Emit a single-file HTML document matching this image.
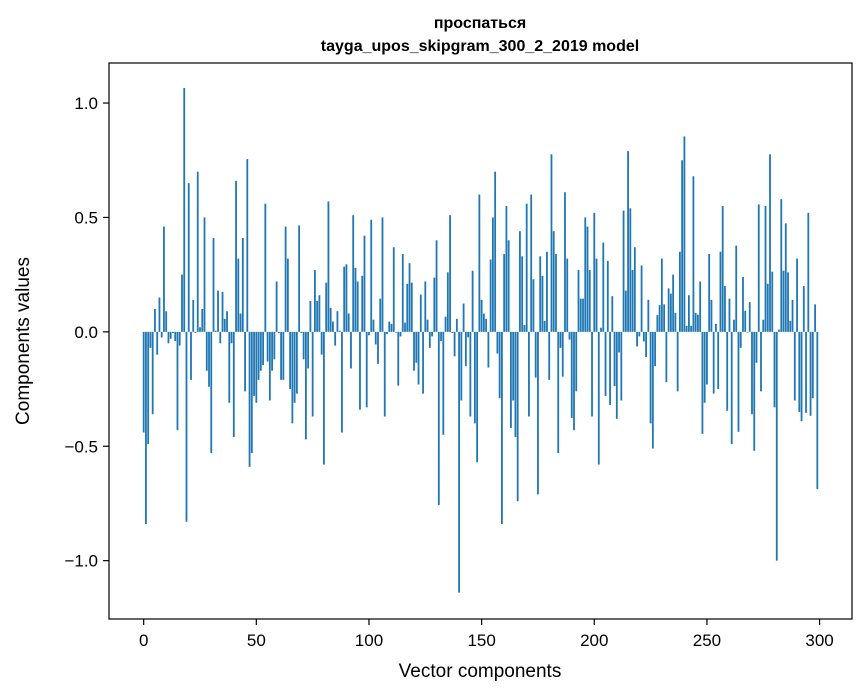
<!DOCTYPE html>
<html><head><meta charset="utf-8"><style>
html,body{margin:0;padding:0;background:#fff;}
svg{display:block;font-family:"Liberation Sans","DejaVu Sans",sans-serif;}
</style></head><body>
<svg id="chart" width="867" height="696" viewBox="0 0 867 696" xmlns="http://www.w3.org/2000/svg">
<rect width="867" height="696" fill="#fff"/>
<text x="480" y="28" text-anchor="middle" font-size="16" font-weight="bold">проспаться</text>
<text x="480" y="51" text-anchor="middle" font-size="16" font-weight="bold">tayga_upos_skipgram_300_2_2019 model</text>
<g id="bars"></g>
<g id="xticks"></g>
<g id="yticks"></g>
<rect x="109" y="63" width="743" height="556" fill="none" stroke="#000" stroke-width="1.2"/>
<text x="480" y="677" text-anchor="middle" font-size="19">Vector components</text>
<text transform="translate(29,341) rotate(-90)" text-anchor="middle" font-size="19">Components values</text>
</svg>
<script>
const values = [
-0.44,-0.84,-0.49,-0.07,-0.36,0.10,-0.10,0.15,-0.025,0.46,
0.09,-0.05,-0.03,-0.005,-0.04,-0.43,-0.06,0.25,1.066,-0.83,
0.65,-0.21,0.14,-0.005,0.70,0.02,0.10,0.50,-0.17,-0.24,
-0.53,0.41,0.005,0.18,-0.05,0.175,0.057,0.09,-0.31,-0.05,
-0.46,0.66,0.32,0.08,0.41,-0.26,0.755,-0.59,-0.53,-0.28,
-0.31,-0.21,-0.17,-0.145,0.56,-0.13,-0.30,-0.17,-0.12,0.22,
-0.005,-0.21,-0.21,0.46,0.32,-0.25,-0.40,-0.31,-0.27,0.465,
-0.005,-0.12,-0.47,-0.16,0.135,-0.37,0.27,0.135,0.16,-0.10,
-0.58,0.215,0.57,0.105,0.045,-0.06,0.09,0.005,-0.44,0.285,
0.295,0.08,-0.16,0.51,0.28,0.22,-0.34,0.245,0.42,-0.33,
-0.015,0.49,0.053,-0.055,-0.14,0.145,0.50,-0.37,-0.01,0.045,
0.035,0.37,-0.003,-0.235,-0.02,0.34,0.04,0.21,0.30,0.215,
-0.17,-0.135,-0.23,0.163,-0.27,0.22,0.053,-0.07,-0.02,0.237,
0.40,-0.757,-0.04,-0.45,0.066,0.26,0.51,-0.005,-0.107,0.057,
-1.14,-0.30,0.124,-0.15,-0.024,-0.37,0.267,-0.40,-0.57,0.60,
0.14,0.08,0.057,-0.156,0.316,0.50,0.70,-0.095,-0.29,-0.84,
0.34,0.55,0.40,-0.42,-0.30,-0.46,-0.74,0.44,0.33,0.03,
0.56,-0.37,0.60,0.23,-0.20,-0.71,0.33,0.245,0.048,0.35,
-0.21,0.776,0.44,0.34,-0.53,-0.07,-0.196,0.61,0.32,-0.034,
-0.376,-0.43,-0.26,0.27,0.145,0.145,0.50,0.46,0.27,-0.37,
0.52,0.32,-0.58,0.018,0.39,-0.28,0.31,-0.32,0.156,-0.237,
-0.38,-0.09,-0.30,0.53,0.18,0.79,0.54,0.27,0.37,-0.064,
-0.02,0.29,-0.042,-0.11,0.14,-0.40,-0.51,-0.15,0.073,0.117,
0.32,0.12,-0.22,0.19,0.167,0.25,0.083,-0.26,0.35,0.75,
0.854,0.026,0.16,0.026,0.68,0.083,0.075,0.22,-0.446,-0.31,
-0.23,0.34,0.14,-0.27,0.035,-0.25,0.35,0.55,0.20,-0.345,
0.145,-0.49,0.053,0.377,-0.437,-0.07,0.24,0.092,-0.003,0.13,
-0.36,-0.52,-0.135,0.557,-0.26,0.053,0.55,0.21,0.776,0.263,
-0.33,-1.0,0.01,0.58,0.267,0.474,0.26,0.048,0.14,-0.30,
0.32,-0.35,-0.39,0.20,-0.354,0.52,-0.367,-0.29,0.12,-0.687
];
const xTicks = [0,50,100,150,200,250,300];
const yTicks = [-1.0,-0.5,0.0,0.5,1.0];
const yTickLabels = ["\u22121.0","\u22120.5","0.0","0.5","1.0"];

const NS = "http://www.w3.org/2000/svg";
const L = 109, R = 852, T = 63, B = 619;
const n = values.length;
const xmin = -0.4 - 0.05*(n-0.2), xmax = (n-1)+0.4 + 0.05*(n-0.2);
const ymin = -1.255, ymax = 1.175;
function xs(v){ return L + (v - xmin) / (xmax - xmin) * (R - L); }
function ys(v){ return B - (v - ymin) / (ymax - ymin) * (B - T); }

const gb = document.getElementById('bars');
values.forEach((v, i) => {
  const r = document.createElementNS(NS, 'rect');
  const x0 = xs(i - 0.4), x1 = xs(i + 0.4);
  const y0 = ys(Math.max(v, 0)), y1 = ys(Math.min(v, 0));
  r.setAttribute('x', x0);
  r.setAttribute('width', x1 - x0);
  r.setAttribute('y', y0);
  r.setAttribute('height', Math.max(y1 - y0, 0.3));
  r.setAttribute('fill', '#1f77b4');
  
  
  gb.appendChild(r);
});

const gx = document.getElementById('xticks');
xTicks.forEach(t => {
  const x = xs(t);
  const ln = document.createElementNS(NS, 'line');
  ln.setAttribute('x1', x); ln.setAttribute('x2', x);
  ln.setAttribute('y1', B); ln.setAttribute('y2', B + 6);
  ln.setAttribute('stroke', '#000'); ln.setAttribute('stroke-width', '1.2');
  
  
  gx.appendChild(ln);
  const tx = document.createElementNS(NS, 'text');
  tx.setAttribute('x', x); tx.setAttribute('y', B + 27);
  tx.setAttribute('text-anchor', 'middle'); tx.setAttribute('font-size', '17');
  tx.textContent = String(t);
  
  
  gx.appendChild(tx);
});

const gy = document.getElementById('yticks');
yTicks.forEach((t, k) => {
  const y = ys(t);
  const ln = document.createElementNS(NS, 'line');
  ln.setAttribute('x1', L - 6); ln.setAttribute('x2', L);
  ln.setAttribute('y1', y); ln.setAttribute('y2', y);
  ln.setAttribute('stroke', '#000'); ln.setAttribute('stroke-width', '1.2');
  
  
  gy.appendChild(ln);
  const tx = document.createElementNS(NS, 'text');
  tx.setAttribute('x', L - 11); tx.setAttribute('y', y + 6);
  tx.setAttribute('text-anchor', 'end'); tx.setAttribute('font-size', '17');
  tx.textContent = yTickLabels[k];
  
  
  gy.appendChild(tx);
});
</script>
</body></html>
